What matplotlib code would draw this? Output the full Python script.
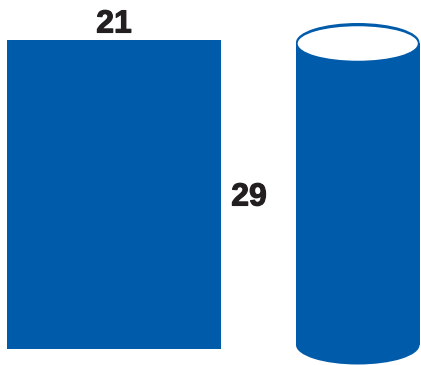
import matplotlib
matplotlib.use("Agg")
import matplotlib.pyplot as plt
from matplotlib.patches import Rectangle, Ellipse
import matplotlib.patheffects as pe

# Data: sheet dimensions (width, height)
sheet_width = 21
sheet_height = 29
labels = [str(sheet_width), str(sheet_height)]

BLUE = "#005BAA"
TEXT = "#231F20"

W, H = 421, 365
fig = plt.figure(figsize=(W / 100, H / 100), dpi=100)
ax = fig.add_axes([0, 0, 1, 1])

# scale: pixels per data unit (slightly different in x and y as in the reference)
sx = 214 / sheet_width
sy = 309 / sheet_height
x0_px, ybot_px = 7, 349  # rectangle lower-left in pixel coords (from top)
ax.set_xlim(-x0_px / sx, (W - x0_px) / sx)
ax.set_ylim(-(H - ybot_px) / sy, ybot_px / sy)
ax.axis("off")

def px2x(p):
    return (p - x0_px) / sx

def px2y(p):
    return (ybot_px - p) / sy

stroke = [pe.withStroke(linewidth=0.8, foreground=TEXT)]

# flat sheet
ax.add_patch(Rectangle((0, 0), sheet_width, sheet_height, facecolor=BLUE, edgecolor="none"))
ax.text(sheet_width / 2, px2y(21), labels[0], ha="center", va="center_baseline",
        fontsize=23, fontweight="bold", color=TEXT, family="Liberation Sans",
        path_effects=stroke)
ax.text(px2x(249), px2y(194), labels[1], ha="center", va="center_baseline",
        fontsize=23, fontweight="bold", color=TEXT, family="Liberation Sans",
        path_effects=stroke)

# rolled cylinder
cl, cr = px2x(296), px2x(419.5)
cx = (cl + cr) / 2
cw = cr - cl
top_c = px2y(42.5)
bot_c = px2y(345)
eh = 39 / sy

ax.add_patch(Rectangle((cl, bot_c), cw, top_c - bot_c, facecolor=BLUE, edgecolor="none"))
ax.add_patch(Ellipse((cx, bot_c), cw, eh, facecolor=BLUE, edgecolor="none"))
ax.add_patch(Ellipse((cx, top_c), cw, eh, facecolor=BLUE, edgecolor="none"))
ax.add_patch(Ellipse((cx, px2y(43.5)), cw - 3.4 / sx, eh - 4.5 / sy, facecolor="white", edgecolor="none"))

fig.savefig("out.png", dpi=100)
